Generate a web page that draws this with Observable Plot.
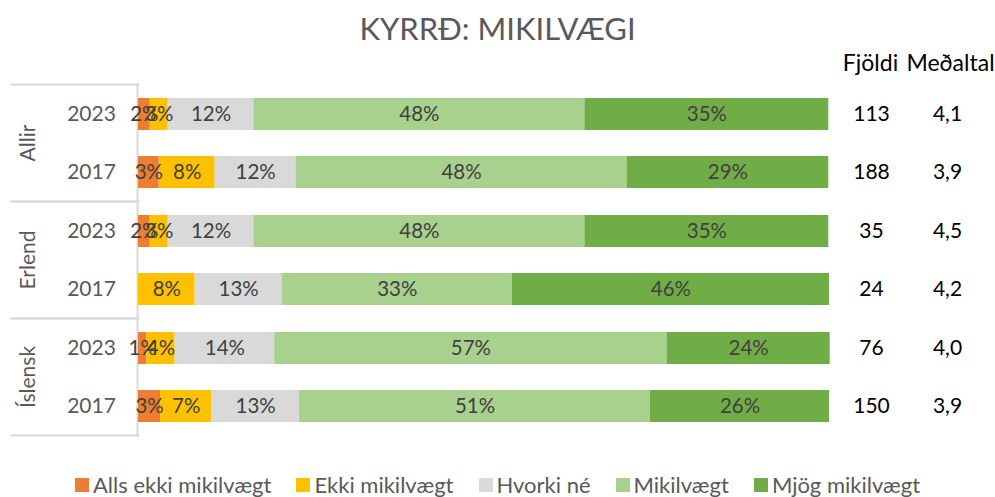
<!DOCTYPE html>
<html>
<head>
<meta charset="utf-8">
<script src="https://cdn.jsdelivr.net/npm/d3@7"></script>
<script src="https://cdn.jsdelivr.net/npm/@observablehq/plot@0.6"></script>
<style>
  body { margin: 0; background: #fff; font-family: Lato, "Open Sans", sans-serif; }
  #wrap { width: 995px; height: 497px; position: relative; overflow: hidden; }
  #title { height: 29px; padding-top: 14px; font-size: 31px; line-height: 29px; text-align: center; color: #595959; }
  #chart svg { display: block; }
  #legend { display: flex; align-items: center; padding-left: 75px; margin-top: 11px; height: 22px; font-size: 22px; line-height: 22px; color: #595959; }
  .item { display: flex; align-items: center; margin-right: 25px; white-space: nowrap; }
  .sw { width: 14px; height: 14px; margin-right: 4px; flex: none; }
</style>
</head>
<body>
<div id="wrap">
  <div id="title">KYRRÐ: MIKILVÆGI</div>
  <div id="chart"></div>
  <div id="legend"></div>
</div>
<script>
const groups = ["Allir", "Allir", "Erlend", "Erlend", "Íslensk", "Íslensk"];
const years = ["2023", "2017", "2023", "2017", "2023", "2017"];
const categories = ["Alls ekki mikilvægt", "Ekki mikilvægt", "Hvorki né", "Mikilvægt", "Mjög mikilvægt"];
const allsEkki = [1.7, 3.0, 1.7, 0, 1.2, 3.2];
const ekki = [2.6, 8.1, 2.6, 8.2, 4.1, 7.4];
const hvorki = [12.4, 11.7, 12.4, 12.6, 14.4, 12.7];
const mikil = [47.9, 47.9, 47.9, 33.3, 56.8, 50.8];
const mjog = [35.3, 29.2, 35.3, 45.9, 23.6, 25.9];
const fjoldi = [113, 188, 35, 24, 76, 150];
const medaltal = [4.1, 3.9, 4.5, 4.2, 4.0, 3.9];
const colors = ["#ED7D31", "#FFC000", "#D9D9D9", "#A9D18E", "#70AD47"];

const series = [allsEkki, ekki, hvorki, mikil, mjog];
const data = [];
series.forEach((vals, ci) => {
  vals.forEach((v, i) => data.push({group: groups[i], year: years[i], cat: categories[ci], value: v}));
});
const rows = groups.map((g, i) => ({group: g, year: years[i], n: fjoldi[i], m: medaltal[i]}));
const groupNames = Array.from(new Set(groups));

const f = (size) => ({fontSize: size, fontFamily: "Lato"});

const chart = Plot.plot({
  width: 995,
  height: 420,
  marginLeft: 138,
  marginRight: 166,
  marginTop: 41,
  marginBottom: 28,
  x: {domain: [0, 100], axis: null},
  y: {domain: ["2023", "2017"], paddingInner: 0.45, paddingOuter: 0.225, axis: null},
  fy: {domain: groupNames, padding: 0, axis: null},
  color: {domain: categories, range: colors},
  style: {fontFamily: "Lato", background: "white"},
  marks: [
    Plot.frame({anchor: "top", stroke: "#d9d9d9", strokeWidth: 2, insetLeft: -127, insetRight: 691}),
    Plot.frame({anchor: "bottom", stroke: "#d9d9d9", strokeWidth: 2, insetLeft: -127, insetRight: 691}),
    Plot.frame({anchor: "left", stroke: "#d9d9d9", strokeWidth: 2, insetLeft: -1}),
    Plot.barX(data, Plot.stackX({x: "value", y: "year", fy: "group", fill: "cat"})),
    Plot.text(data, Plot.stackX({
      x: "value", y: "year", fy: "group", z: "cat",
      text: d => d.value > 0 ? Math.round(d.value) + "%" : "",
      fill: "#404040", ...f(20.5)
    })),
    Plot.text(rows, {y: "year", fy: "group", text: "year", frameAnchor: "left", textAnchor: "middle", dx: -47, fill: "#595959", ...f(21)}),
    Plot.text(groupNames, {fy: d => d, text: d => d, frameAnchor: "left", textAnchor: "middle", dx: -110, rotate: -90, fill: "#595959", ...f(21)}),
    Plot.text(rows, {y: "year", fy: "group", text: "n", frameAnchor: "right", textAnchor: "middle", dx: 42, fill: "#000", ...f(21)}),
    Plot.text(rows, {y: "year", fy: "group", text: d => d.m.toFixed(1).replace(".", ","), frameAnchor: "right", textAnchor: "middle", dx: 118, fill: "#000", ...f(21)}),
    Plot.text(["Fjöldi"], {fy: () => groupNames[0], text: d => d, frameAnchor: "top-right", textAnchor: "middle", dx: 41, dy: -30, fill: "#000", ...f(23)}),
    Plot.text(["Meðaltal"], {fy: () => groupNames[0], text: d => d, frameAnchor: "top-right", textAnchor: "middle", dx: 121, dy: -30, fill: "#000", ...f(23)})
  ]
});
document.getElementById("chart").appendChild(chart);

const legend = document.getElementById("legend");
categories.forEach((c, i) => {
  const item = document.createElement("div");
  item.className = "item";
  const sw = document.createElement("span");
  sw.className = "sw";
  sw.style.background = colors[i];
  const t = document.createElement("span");
  t.textContent = c;
  item.appendChild(sw);
  item.appendChild(t);
  legend.appendChild(item);
});
</script>
</body>
</html>
